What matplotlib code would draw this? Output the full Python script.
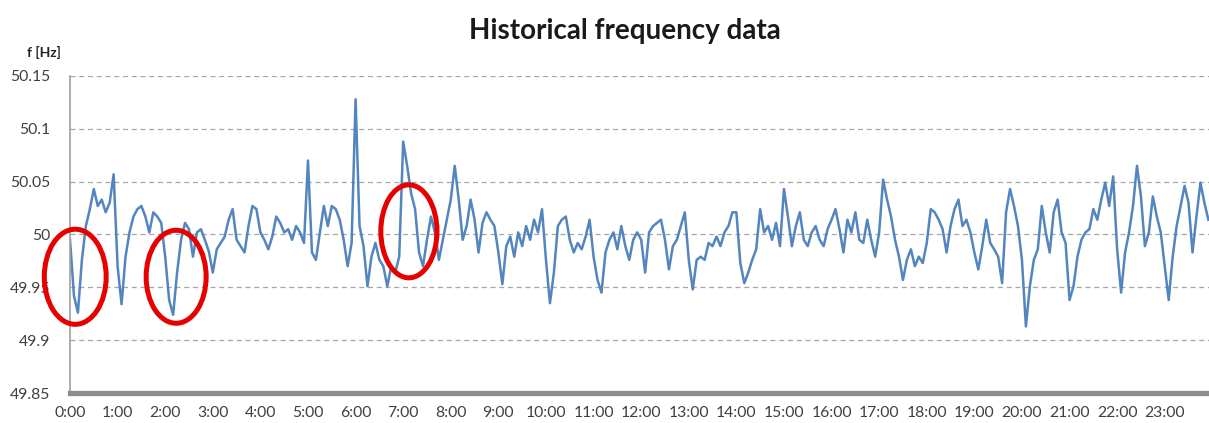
import numpy as np
import matplotlib.pyplot as plt
from matplotlib.patches import Ellipse

freq_hz = [
    49.995, 49.942, 49.926, 49.976, 50.008, 50.024, 50.043, 50.027, 50.033, 50.021, 50.030, 50.057,  # 0:00
    49.970, 49.934, 49.979, 50.002, 50.017, 50.024, 50.027, 50.017, 50.002, 50.021, 50.017, 50.011,  # 1:00
    49.979, 49.938, 49.924, 49.964, 49.995, 50.011, 50.005, 49.979, 50.002, 50.005, 49.995, 49.984,  # 2:00
    49.964, 49.986, 49.992, 49.998, 50.014, 50.024, 49.995, 49.989, 49.983, 50.008, 50.027, 50.024,  # 3:00
    50.002, 49.995, 49.986, 49.998, 50.017, 50.011, 50.002, 50.005, 49.995, 50.008, 50.002, 49.992,  # 4:00
    50.070, 49.983, 49.976, 50.002, 50.027, 50.008, 50.027, 50.024, 50.014, 49.995, 49.970, 49.992,  # 5:00
    50.128, 50.008, 49.989, 49.951, 49.979, 49.992, 49.976, 49.970, 49.951, 49.970, 49.964, 49.979,  # 6:00
    50.088, 50.065, 50.039, 50.024, 49.983, 49.970, 49.995, 50.017, 50.002, 49.976, 49.995, 50.014,  # 7:00
    50.033, 50.065, 50.033, 49.995, 50.008, 50.033, 50.014, 49.983, 50.011, 50.021, 50.014, 50.008,  # 8:00
    49.983, 49.953, 49.989, 49.998, 49.979, 50.002, 49.989, 50.008, 49.995, 50.014, 50.002, 50.024,  # 9:00
    49.976, 49.935, 49.964, 50.008, 50.014, 50.017, 49.995, 49.983, 49.992, 49.986, 49.998, 50.014,  # 10:00
    49.979, 49.957, 49.945, 49.983, 49.995, 50.002, 49.986, 50.008, 49.989, 49.976, 49.995, 50.002,  # 11:00
    49.995, 49.964, 50.002, 50.008, 50.011, 50.014, 49.995, 49.967, 49.989, 49.995, 50.008, 50.021,  # 12:00
    49.976, 49.948, 49.976, 49.979, 49.976, 49.992, 49.989, 49.998, 49.989, 50.002, 50.008, 50.021,  # 13:00
    50.021, 49.973, 49.954, 49.964, 49.976, 49.986, 50.024, 50.002, 50.008, 49.995, 50.011, 49.989,  # 14:00
    50.043, 50.017, 49.989, 50.008, 50.021, 49.995, 49.989, 50.002, 50.008, 49.995, 49.989, 50.005,  # 15:00
    50.014, 50.024, 50.005, 49.983, 50.014, 50.002, 50.021, 49.995, 49.992, 50.014, 49.995, 49.979,  # 16:00
    50.002, 50.052, 50.033, 50.017, 49.995, 49.979, 49.957, 49.976, 49.986, 49.970, 49.979, 49.973,  # 17:00
    49.992, 50.024, 50.021, 50.014, 50.005, 49.983, 50.008, 50.024, 50.033, 50.008, 50.014, 50.002,  # 18:00
    49.983, 49.967, 49.989, 50.014, 49.992, 49.986, 49.979, 49.954, 50.021, 50.043, 50.027, 50.008,  # 19:00
    49.976, 49.913, 49.951, 49.976, 49.986, 50.027, 50.002, 49.983, 50.021, 50.033, 50.002, 49.992,  # 20:00
    49.938, 49.951, 49.979, 49.995, 50.002, 50.005, 50.024, 50.014, 50.033, 50.049, 50.027, 50.055,  # 21:00
    49.986, 49.945, 49.983, 50.002, 50.027, 50.065, 50.036, 49.989, 50.002, 50.036, 50.017, 50.002,  # 22:00
    49.970, 49.938, 49.979, 50.008, 50.027, 50.046, 50.030, 49.983, 50.017, 50.049, 50.030, 50.014,  # 23:00
]
minutes = np.arange(0, 24 * 60, 5)
hour_labels = ['%d:00' % h for h in range(24)]
y_ticks = [49.85, 49.9, 49.95, 50.0, 50.05, 50.1, 50.15]
y_labels = ['49.85', '49.9', '49.95', '50', '50.05', '50.1', '50.15']

# highlighted events (hour, Hz) with ellipse size (hours, Hz)
highlights = [(0.11, 49.960, 1.30, 0.090), (2.23, 49.960, 1.26, 0.088), (7.12, 50.003, 1.18, 0.088)]

plt.rcParams['font.family'] = ['Lato', 'DejaVu Sans']

fig = plt.figure(figsize=(12.09, 4.23), dpi=100)
ax = fig.add_axes([70 / 1209, 30 / 423, 1139 / 1209, 317 / 423])

ax.plot(minutes / 60, freq_hz, color='#4a7ebb', linewidth=1.8, alpha=0.95)

ax.set_xlim(0, 23.93)
ax.set_ylim(49.85, 50.15)
ax.set_xticks(range(24))
ax.set_xticklabels(hour_labels)
ax.set_yticks(y_ticks)
ax.set_yticklabels(y_labels)
ax.tick_params(axis='both', length=0, labelsize=11.3, colors='#404040')
ax.tick_params(axis='y', pad=14)
ax.tick_params(axis='x', pad=9)

for v in y_ticks[1:]:
    ax.axhline(v, color='#a6a6a6', linestyle=(0, (4, 3)), linewidth=0.9, zorder=0)

for s in ['top', 'right']:
    ax.spines[s].set_visible(False)
ax.spines['left'].set_color('#a0a0a0')
ax.spines['left'].set_linewidth(1.2)
ax.spines['bottom'].set_color('#8c8c8c')
ax.spines['bottom'].set_linewidth(3.8)

for cx, cy, w, h in highlights:
    ax.add_patch(Ellipse((cx, cy), w, h, fill=False, edgecolor='#e60000',
                         linewidth=3.6, clip_on=False, zorder=5))

fig.text(625 / 1209, 1 - 31 / 423, 'Historical frequency data', ha='center', va='center',
         fontsize=20, fontweight='bold', color='#1a1a1a')
fig.text(44 / 1209, 1 - 52 / 423, 'f [Hz]', ha='center', va='center',
         fontsize=10, fontweight='bold', color='#262626')

fig.savefig('out.png', dpi=100)
